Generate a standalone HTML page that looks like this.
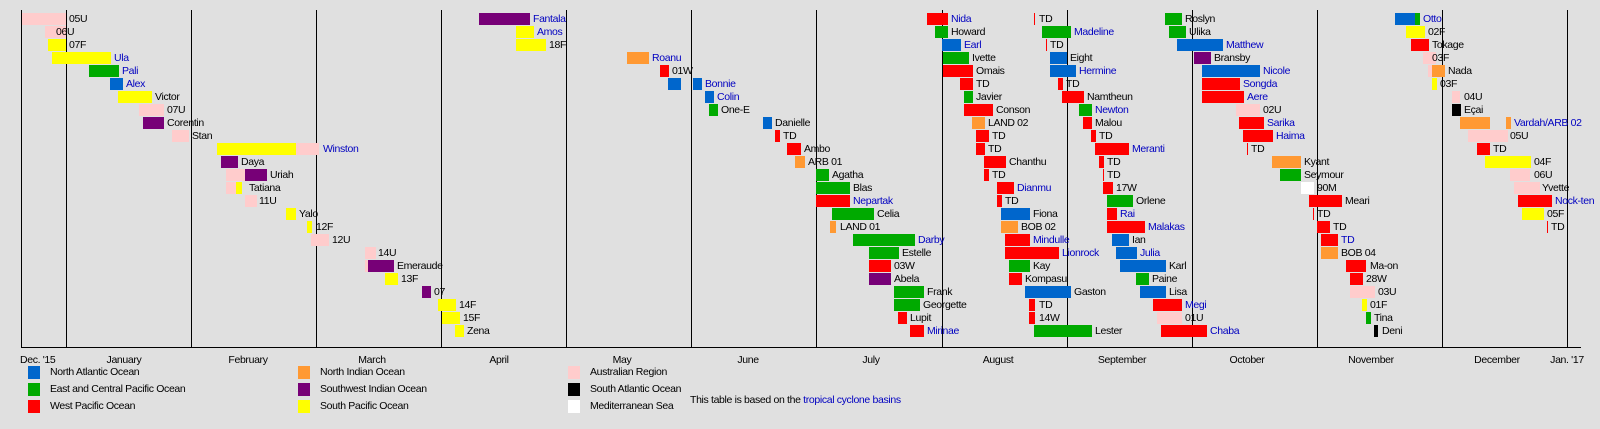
<!DOCTYPE html>
<html><head><meta charset="utf-8"><style>
body{margin:0;width:1600px;height:429px;background:#e0e0e0;position:relative;overflow:hidden;font-family:"Liberation Sans",Arial,sans-serif}
.b{position:absolute;height:12px}
.l{position:absolute;font-size:10.5px;line-height:13px;letter-spacing:-0.35px;color:#000;white-space:nowrap}
.h{color:#0000c0}
.A{background:#0066cc}.E{background:#00aa00}.W{background:#ff0000}.N{background:#ff9933}.S{background:#770077}.P{background:#ffff00}.U{background:#ffcccc}.K{background:#000}.M{background:#fff}
.v{position:absolute;top:10px;height:337px;width:1px;background:#000}
.m{position:absolute;top:354px;font-size:10.5px;letter-spacing:-0.35px;transform:translateX(-50%);white-space:nowrap}
.sw{position:absolute;width:12px;height:13px}
</style></head><body>
<div class="v" style="left:21px"></div>
<div style="position:absolute;left:21px;top:347px;width:1560px;height:1px;background:#000"></div>
<div class="v" style="left:66px"></div><div class="v" style="left:191px"></div><div class="v" style="left:316px"></div><div class="v" style="left:441px"></div><div class="v" style="left:566px"></div><div class="v" style="left:691px"></div><div class="v" style="left:816px"></div><div class="v" style="left:942px"></div><div class="v" style="left:1067px"></div><div class="v" style="left:1192px"></div><div class="v" style="left:1317px"></div><div class="v" style="left:1442px"></div><div class="v" style="left:1567px"></div>

<span class="l" style="left:20px;top:354px">Dec. '15</span>
<span class="m" style="left:124px">January</span><span class="m" style="left:248px">February</span><span class="m" style="left:372px">March</span><span class="m" style="left:499px">April</span><span class="m" style="left:622px">May</span><span class="m" style="left:748px">June</span><span class="m" style="left:871px">July</span><span class="m" style="left:998px">August</span><span class="m" style="left:1122px">September</span><span class="m" style="left:1247px">October</span><span class="m" style="left:1371px">November</span><span class="m" style="left:1497px">December</span><span class="m" style="left:1567px">Jan. '17</span>

<!-- legend -->
<div class="sw A" style="left:28px;top:366px"></div><span class="l" style="left:50px;top:366px">North Atlantic Ocean</span>
<div class="sw E" style="left:28px;top:383px"></div><span class="l" style="left:50px;top:383px">East and Central Pacific Ocean</span>
<div class="sw W" style="left:28px;top:400px"></div><span class="l" style="left:50px;top:400px">West Pacific Ocean</span>
<div class="sw N" style="left:298px;top:366px"></div><span class="l" style="left:320px;top:366px">North Indian Ocean</span>
<div class="sw S" style="left:298px;top:383px"></div><span class="l" style="left:320px;top:383px">Southwest Indian Ocean</span>
<div class="sw P" style="left:298px;top:400px"></div><span class="l" style="left:320px;top:400px">South Pacific Ocean</span>
<div class="sw U" style="left:568px;top:366px"></div><span class="l" style="left:590px;top:366px">Australian Region</span>
<div class="sw K" style="left:568px;top:383px"></div><span class="l" style="left:590px;top:383px">South Atlantic Ocean</span>
<div class="sw M" style="left:568px;top:400px"></div><span class="l" style="left:590px;top:400px">Mediterranean Sea</span>
<span class="l" style="left:690px;top:394px">This table is based on the <span class="h">tropical cyclone basins</span></span>

<!-- column 1 -->
<i class="b U" style="left:22px;width:44px;top:13px"></i><span class="l" style="left:69px;top:13px">05U</span>
<i class="b U" style="left:45px;width:21px;top:26px"></i><span class="l" style="left:56px;top:26px">06U</span>
<i class="b P" style="left:48px;width:18px;top:39px"></i><span class="l" style="left:69px;top:39px">07F</span>
<i class="b P" style="left:52px;width:59px;top:52px"></i><span class="l h" style="left:114px;top:52px">Ula</span>
<i class="b E" style="left:89px;width:30px;top:65px"></i><span class="l h" style="left:122px;top:65px">Pali</span>
<i class="b A" style="left:110px;width:13px;top:78px"></i><span class="l h" style="left:126px;top:78px">Alex</span>
<i class="b P" style="left:118px;width:34px;top:91px"></i><span class="l" style="left:155px;top:91px">Victor</span>
<i class="b U" style="left:139px;width:25px;top:104px"></i><span class="l" style="left:167px;top:104px">07U</span>
<i class="b S" style="left:143px;width:21px;top:117px"></i><span class="l" style="left:167px;top:117px">Corentin</span>
<i class="b U" style="left:172px;width:17px;top:130px"></i><span class="l" style="left:192px;top:130px">Stan</span>
<i class="b P" style="left:217px;width:79px;top:143px"></i><i class="b U" style="left:296px;width:23px;top:143px"></i><span class="l h" style="left:323px;top:143px">Winston</span>
<i class="b S" style="left:221px;width:17px;top:156px"></i><span class="l" style="left:241px;top:156px">Daya</span>
<i class="b U" style="left:226px;width:19px;top:169px"></i><i class="b S" style="left:245px;width:22px;top:169px"></i><span class="l" style="left:270px;top:169px">Uriah</span>
<i class="b U" style="left:226px;width:10px;top:182px"></i><i class="b P" style="left:236px;width:6px;top:182px"></i><span class="l" style="left:249px;top:182px">Tatiana</span>
<i class="b U" style="left:245px;width:12px;top:195px"></i><span class="l" style="left:259px;top:195px">11U</span>
<i class="b P" style="left:286px;width:10px;top:208px"></i><span class="l" style="left:299px;top:208px">Yalo</span>
<i class="b P" style="left:307px;width:5px;top:221px"></i><span class="l" style="left:316px;top:221px">12F</span>
<i class="b U" style="left:311px;width:18px;top:234px"></i><span class="l" style="left:332px;top:234px">12U</span>
<i class="b U" style="left:365px;width:11px;top:247px"></i><span class="l" style="left:378px;top:247px">14U</span>
<i class="b U" style="left:365px;width:3px;top:260px"></i><i class="b S" style="left:368px;width:26px;top:260px"></i><span class="l" style="left:397px;top:260px">Emeraude</span>
<i class="b P" style="left:385px;width:13px;top:273px"></i><span class="l" style="left:401px;top:273px">13F</span>
<i class="b S" style="left:422px;width:9px;top:286px"></i><span class="l" style="left:434px;top:286px">07</span>
<i class="b P" style="left:438px;width:18px;top:299px"></i><span class="l" style="left:459px;top:299px">14F</span>
<i class="b P" style="left:442px;width:18px;top:312px"></i><span class="l" style="left:463px;top:312px">15F</span>
<i class="b P" style="left:455px;width:9px;top:325px"></i><span class="l" style="left:467px;top:325px">Zena</span>

<!-- column 2 -->
<i class="b S" style="left:479px;width:51px;top:13px"></i><span class="l h" style="left:533px;top:13px">Fantala</span>
<i class="b P" style="left:516px;width:18px;top:26px"></i><span class="l h" style="left:537px;top:26px">Amos</span>
<i class="b P" style="left:516px;width:30px;top:39px"></i><span class="l" style="left:549px;top:39px">18F</span>
<i class="b N" style="left:627px;width:22px;top:52px"></i><span class="l h" style="left:652px;top:52px">Roanu</span>
<i class="b W" style="left:660px;width:9px;top:65px"></i><span class="l" style="left:672px;top:65px">01W</span>
<i class="b A" style="left:668px;width:13px;top:78px"></i><i class="b A" style="left:693px;width:9px;top:78px"></i><span class="l h" style="left:705px;top:78px">Bonnie</span>
<i class="b A" style="left:705px;width:9px;top:91px"></i><span class="l h" style="left:717px;top:91px">Colin</span>
<i class="b E" style="left:709px;width:9px;top:104px"></i><span class="l" style="left:721px;top:104px">One-E</span>
<i class="b A" style="left:763px;width:9px;top:117px"></i><span class="l" style="left:775px;top:117px">Danielle</span>
<i class="b W" style="left:775px;width:5px;top:130px"></i><span class="l" style="left:783px;top:130px">TD</span>
<i class="b W" style="left:787px;width:14px;top:143px"></i><span class="l" style="left:804px;top:143px">Ambo</span>
<i class="b N" style="left:795px;width:10px;top:156px"></i><span class="l" style="left:808px;top:156px">ARB 01</span>
<i class="b E" style="left:816px;width:13px;top:169px"></i><span class="l" style="left:832px;top:169px">Agatha</span>
<i class="b E" style="left:816px;width:34px;top:182px"></i><span class="l" style="left:853px;top:182px">Blas</span>
<i class="b W" style="left:816px;width:34px;top:195px"></i><span class="l h" style="left:853px;top:195px">Nepartak</span>
<i class="b E" style="left:832px;width:42px;top:208px"></i><span class="l" style="left:877px;top:208px">Celia</span>
<i class="b N" style="left:830px;width:6px;top:221px"></i><span class="l" style="left:840px;top:221px">LAND 01</span>
<i class="b E" style="left:853px;width:62px;top:234px"></i><span class="l h" style="left:918px;top:234px">Darby</span>
<i class="b E" style="left:869px;width:30px;top:247px"></i><span class="l" style="left:902px;top:247px">Estelle</span>
<i class="b W" style="left:869px;width:22px;top:260px"></i><span class="l" style="left:894px;top:260px">03W</span>
<i class="b S" style="left:869px;width:22px;top:273px"></i><span class="l" style="left:894px;top:273px">Abela</span>
<i class="b E" style="left:894px;width:30px;top:286px"></i><span class="l" style="left:927px;top:286px">Frank</span>
<i class="b E" style="left:894px;width:26px;top:299px"></i><span class="l" style="left:923px;top:299px">Georgette</span>
<i class="b W" style="left:898px;width:9px;top:312px"></i><span class="l" style="left:910px;top:312px">Lupit</span>
<i class="b W" style="left:910px;width:14px;top:325px"></i><span class="l h" style="left:927px;top:325px">Mirinae</span>

<!-- column 3 -->
<i class="b W" style="left:927px;width:21px;top:13px"></i><span class="l h" style="left:951px;top:13px">Nida</span>
<i class="b E" style="left:935px;width:13px;top:26px"></i><span class="l" style="left:951px;top:26px">Howard</span>
<i class="b A" style="left:942px;width:19px;top:39px"></i><span class="l h" style="left:964px;top:39px">Earl</span>
<i class="b E" style="left:943px;width:26px;top:52px"></i><span class="l" style="left:972px;top:52px">Ivette</span>
<i class="b W" style="left:943px;width:30px;top:65px"></i><span class="l" style="left:976px;top:65px">Omais</span>
<i class="b W" style="left:960px;width:13px;top:78px"></i><span class="l" style="left:976px;top:78px">TD</span>
<i class="b E" style="left:964px;width:9px;top:91px"></i><span class="l" style="left:976px;top:91px">Javier</span>
<i class="b W" style="left:964px;width:29px;top:104px"></i><span class="l" style="left:996px;top:104px">Conson</span>
<i class="b N" style="left:972px;width:13px;top:117px"></i><span class="l" style="left:988px;top:117px">LAND 02</span>
<i class="b W" style="left:976px;width:13px;top:130px"></i><span class="l" style="left:992px;top:130px">TD</span>
<i class="b W" style="left:976px;width:9px;top:143px"></i><span class="l" style="left:988px;top:143px">TD</span>
<i class="b W" style="left:984px;width:22px;top:156px"></i><span class="l" style="left:1009px;top:156px">Chanthu</span>
<i class="b W" style="left:984px;width:5px;top:169px"></i><span class="l" style="left:992px;top:169px">TD</span>
<i class="b W" style="left:997px;width:17px;top:182px"></i><span class="l h" style="left:1017px;top:182px">Dianmu</span>
<i class="b W" style="left:997px;width:5px;top:195px"></i><span class="l" style="left:1005px;top:195px">TD</span>
<i class="b A" style="left:1001px;width:29px;top:208px"></i><span class="l" style="left:1033px;top:208px">Fiona</span>
<i class="b N" style="left:1001px;width:17px;top:221px"></i><span class="l" style="left:1021px;top:221px">BOB 02</span>
<i class="b W" style="left:1005px;width:25px;top:234px"></i><span class="l h" style="left:1033px;top:234px">Mindulle</span>
<i class="b W" style="left:1005px;width:54px;top:247px"></i><span class="l h" style="left:1062px;top:247px">Lionrock</span>
<i class="b E" style="left:1009px;width:21px;top:260px"></i><span class="l" style="left:1033px;top:260px">Kay</span>
<i class="b W" style="left:1009px;width:13px;top:273px"></i><span class="l" style="left:1025px;top:273px">Kompasu</span>
<i class="b A" style="left:1025px;width:46px;top:286px"></i><span class="l" style="left:1074px;top:286px">Gaston</span>
<i class="b W" style="left:1029px;width:6px;top:299px"></i><span class="l" style="left:1039px;top:299px">TD</span>
<i class="b W" style="left:1029px;width:6px;top:312px"></i><span class="l" style="left:1039px;top:312px">14W</span>
<i class="b E" style="left:1034px;width:58px;top:325px"></i><span class="l" style="left:1095px;top:325px">Lester</span>

<!-- column 4 -->
<i class="b W" style="left:1034px;width:1px;top:13px"></i><span class="l" style="left:1039px;top:13px">TD</span>
<i class="b E" style="left:1042px;width:29px;top:26px"></i><span class="l h" style="left:1074px;top:26px">Madeline</span>
<i class="b W" style="left:1046px;width:1px;top:39px"></i><span class="l" style="left:1050px;top:39px">TD</span>
<i class="b A" style="left:1050px;width:17px;top:52px"></i><span class="l" style="left:1070px;top:52px">Eight</span>
<i class="b A" style="left:1050px;width:26px;top:65px"></i><span class="l h" style="left:1079px;top:65px">Hermine</span>
<i class="b W" style="left:1058px;width:5px;top:78px"></i><span class="l" style="left:1066px;top:78px">TD</span>
<i class="b W" style="left:1062px;width:22px;top:91px"></i><span class="l" style="left:1087px;top:91px">Namtheun</span>
<i class="b E" style="left:1079px;width:13px;top:104px"></i><span class="l h" style="left:1095px;top:104px">Newton</span>
<i class="b W" style="left:1083px;width:9px;top:117px"></i><span class="l" style="left:1095px;top:117px">Malou</span>
<i class="b W" style="left:1091px;width:5px;top:130px"></i><span class="l" style="left:1099px;top:130px">TD</span>
<i class="b W" style="left:1095px;width:34px;top:143px"></i><span class="l h" style="left:1132px;top:143px">Meranti</span>
<i class="b W" style="left:1099px;width:5px;top:156px"></i><span class="l" style="left:1107px;top:156px">TD</span>
<i class="b W" style="left:1103px;width:1px;top:169px"></i><span class="l" style="left:1107px;top:169px">TD</span>
<i class="b W" style="left:1103px;width:10px;top:182px"></i><span class="l" style="left:1116px;top:182px">17W</span>
<i class="b E" style="left:1107px;width:26px;top:195px"></i><span class="l" style="left:1136px;top:195px">Orlene</span>
<i class="b W" style="left:1107px;width:10px;top:208px"></i><span class="l h" style="left:1120px;top:208px">Rai</span>
<i class="b W" style="left:1107px;width:38px;top:221px"></i><span class="l h" style="left:1148px;top:221px">Malakas</span>
<i class="b A" style="left:1112px;width:17px;top:234px"></i><span class="l" style="left:1132px;top:234px">Ian</span>
<i class="b A" style="left:1116px;width:21px;top:247px"></i><span class="l h" style="left:1140px;top:247px">Julia</span>
<i class="b A" style="left:1120px;width:46px;top:260px"></i><span class="l" style="left:1169px;top:260px">Karl</span>
<i class="b E" style="left:1136px;width:13px;top:273px"></i><span class="l" style="left:1152px;top:273px">Paine</span>
<i class="b A" style="left:1140px;width:26px;top:286px"></i><span class="l" style="left:1169px;top:286px">Lisa</span>
<i class="b W" style="left:1153px;width:29px;top:299px"></i><span class="l h" style="left:1185px;top:299px">Megi</span>
<i class="b U" style="left:1157px;width:25px;top:312px"></i><span class="l" style="left:1185px;top:312px">01U</span>
<i class="b W" style="left:1161px;width:46px;top:325px"></i><span class="l h" style="left:1210px;top:325px">Chaba</span>

<!-- column 5 -->
<i class="b E" style="left:1165px;width:17px;top:13px"></i><span class="l" style="left:1185px;top:13px">Roslyn</span>
<i class="b E" style="left:1169px;width:17px;top:26px"></i><span class="l" style="left:1189px;top:26px">Ulika</span>
<i class="b A" style="left:1177px;width:46px;top:39px"></i><span class="l h" style="left:1226px;top:39px">Matthew</span>
<i class="b S" style="left:1194px;width:17px;top:52px"></i><span class="l" style="left:1214px;top:52px">Bransby</span>
<i class="b A" style="left:1202px;width:58px;top:65px"></i><span class="l h" style="left:1263px;top:65px">Nicole</span>
<i class="b W" style="left:1202px;width:38px;top:78px"></i><span class="l h" style="left:1243px;top:78px">Songda</span>
<i class="b W" style="left:1202px;width:42px;top:91px"></i><span class="l h" style="left:1247px;top:91px">Aere</span>
<i class="b U" style="left:1236px;width:24px;top:104px"></i><span class="l" style="left:1263px;top:104px">02U</span>
<i class="b W" style="left:1239px;width:25px;top:117px"></i><span class="l h" style="left:1267px;top:117px">Sarika</span>
<i class="b W" style="left:1243px;width:30px;top:130px"></i><span class="l h" style="left:1276px;top:130px">Haima</span>
<i class="b W" style="left:1247px;width:1px;top:143px"></i><span class="l" style="left:1251px;top:143px">TD</span>
<i class="b N" style="left:1272px;width:29px;top:156px"></i><span class="l" style="left:1304px;top:156px">Kyant</span>
<i class="b E" style="left:1280px;width:21px;top:169px"></i><span class="l" style="left:1304px;top:169px">Seymour</span>
<i class="b M" style="left:1301px;width:13px;top:182px"></i><span class="l" style="left:1317px;top:182px">90M</span>
<i class="b W" style="left:1309px;width:33px;top:195px"></i><span class="l" style="left:1345px;top:195px">Meari</span>
<i class="b W" style="left:1313px;width:1px;top:208px"></i><span class="l" style="left:1317px;top:208px">TD</span>
<i class="b W" style="left:1317px;width:13px;top:221px"></i><span class="l" style="left:1333px;top:221px">TD</span>
<i class="b W" style="left:1321px;width:17px;top:234px"></i><span class="l h" style="left:1341px;top:234px">TD</span>
<i class="b N" style="left:1321px;width:17px;top:247px"></i><span class="l" style="left:1341px;top:247px">BOB 04</span>
<i class="b W" style="left:1346px;width:20px;top:260px"></i><span class="l" style="left:1370px;top:260px">Ma-on</span>
<i class="b W" style="left:1350px;width:13px;top:273px"></i><span class="l" style="left:1366px;top:273px">28W</span>
<i class="b U" style="left:1350px;width:25px;top:286px"></i><span class="l" style="left:1378px;top:286px">03U</span>
<i class="b P" style="left:1362px;width:5px;top:299px"></i><span class="l" style="left:1370px;top:299px">01F</span>
<i class="b E" style="left:1366px;width:5px;top:312px"></i><span class="l" style="left:1374px;top:312px">Tina</span>
<i class="b K" style="left:1374px;width:4px;top:325px"></i><span class="l" style="left:1382px;top:325px">Deni</span>

<!-- column 6 -->
<i class="b A" style="left:1395px;width:20px;top:13px"></i><i class="b E" style="left:1415px;width:5px;top:13px"></i><span class="l h" style="left:1423px;top:13px">Otto</span>
<i class="b P" style="left:1406px;width:19px;top:26px"></i><span class="l" style="left:1428px;top:26px">02F</span>
<i class="b W" style="left:1411px;width:18px;top:39px"></i><span class="l" style="left:1432px;top:39px">Tokage</span>
<i class="b U" style="left:1423px;width:13px;top:52px"></i><span class="l" style="left:1432px;top:52px">03F</span>
<i class="b U" style="left:1428px;width:4px;top:65px"></i><i class="b N" style="left:1432px;width:13px;top:65px"></i><span class="l" style="left:1448px;top:65px">Nada</span>
<i class="b P" style="left:1432px;width:5px;top:78px"></i><span class="l" style="left:1440px;top:78px">03F</span>
<i class="b U" style="left:1452px;width:8px;top:91px"></i><span class="l" style="left:1464px;top:91px">04U</span>
<i class="b K" style="left:1452px;width:9px;top:104px"></i><span class="l" style="left:1464px;top:104px">Eçai</span>
<i class="b N" style="left:1460px;width:30px;top:117px"></i><i class="b N" style="left:1506px;width:5px;top:117px"></i><span class="l h" style="left:1514px;top:117px">Vardah/ARB 02</span>
<i class="b U" style="left:1468px;width:40px;top:130px"></i><span class="l" style="left:1510px;top:130px">05U</span>
<i class="b W" style="left:1477px;width:13px;top:143px"></i><span class="l" style="left:1493px;top:143px">TD</span>
<i class="b P" style="left:1485px;width:46px;top:156px"></i><span class="l" style="left:1534px;top:156px">04F</span>
<i class="b U" style="left:1510px;width:20px;top:169px"></i><span class="l" style="left:1534px;top:169px">06U</span>
<i class="b U" style="left:1514px;width:26px;top:182px"></i><span class="l" style="left:1542px;top:182px">Yvette</span>
<i class="b W" style="left:1518px;width:34px;top:195px"></i><span class="l h" style="left:1555px;top:195px">Nock-ten</span>
<i class="b P" style="left:1522px;width:22px;top:208px"></i><span class="l" style="left:1547px;top:208px">05F</span>
<i class="b W" style="left:1547px;width:1px;top:221px"></i><span class="l" style="left:1551px;top:221px">TD</span>
</body></html>
